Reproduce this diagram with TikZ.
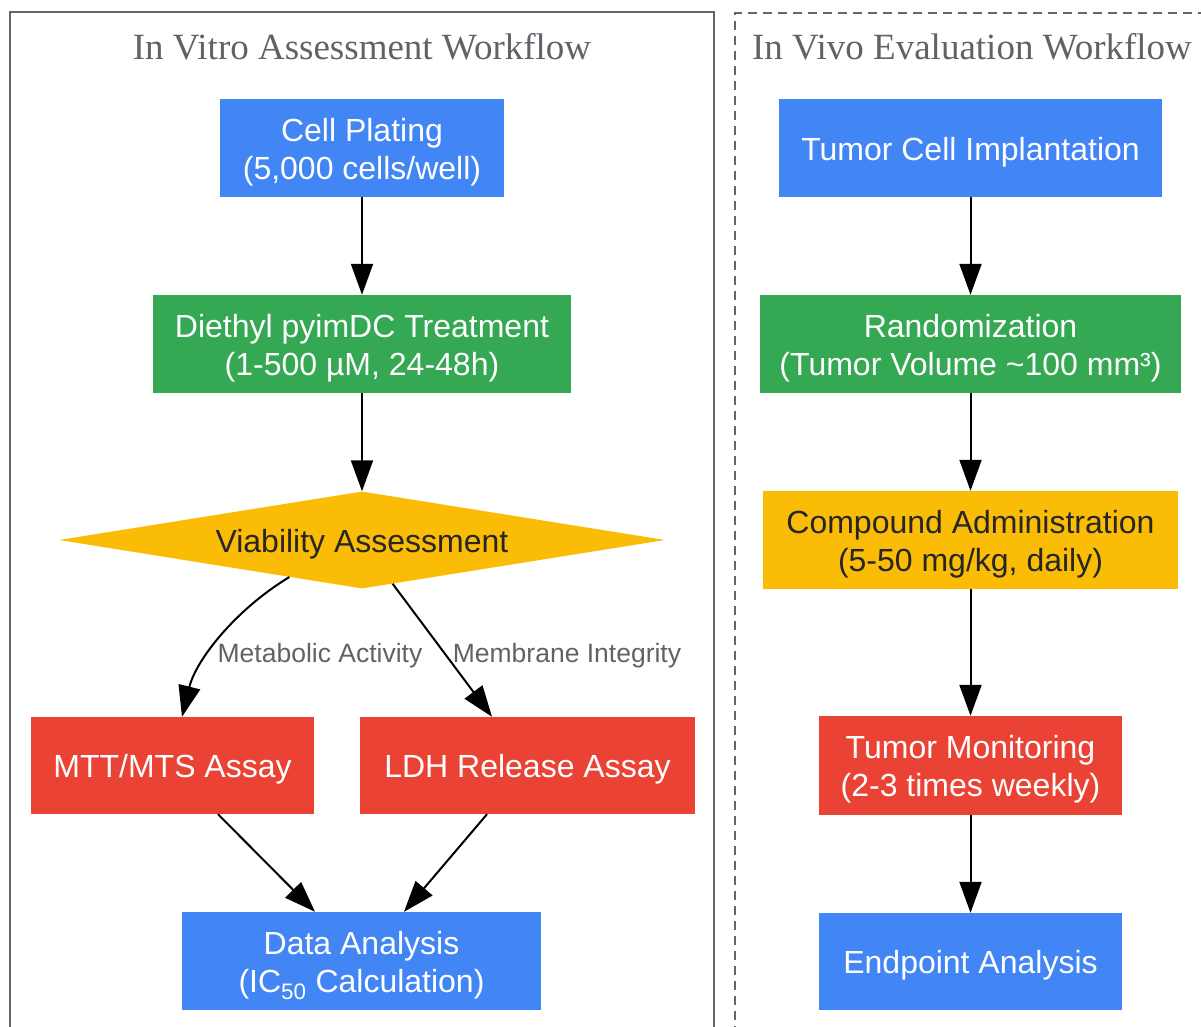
\documentclass[tikz,border=0pt]{standalone}
\usepackage{fontspec}
\setmainfont{Liberation Sans}
\newfontfamily\titlefont{Liberation Serif}
\usetikzlibrary{shapes.geometric,arrows.meta,calc}
\definecolor{gblue}{HTML}{4285F4}
\definecolor{ggreen}{HTML}{34A853}
\definecolor{gyellow}{HTML}{FBBC05}
\definecolor{gred}{HTML}{EA4335}
\definecolor{lblgray}{HTML}{5F6368}
\definecolor{framegray}{HTML}{666666}
\newcommand\ctext[1]{\raisebox{-4.5pt}[\height][\depth]{\begin{tabular}{@{}c@{}}#1\end{tabular}}}
\begin{document}
\begin{tikzpicture}[x=1pt,y=-1pt,
  box/.style={rectangle, inner sep=0pt, font=\fontsize{32}{38}\selectfont, text=white},
  conn/.style={line width=2pt, -{Triangle[length=31pt,width=22pt]}},
  elabel/.style={font=\fontsize{26.5}{30}\selectfont, text=lblgray},
  ctitle/.style={font=\titlefont\fontsize{37}{42}\selectfont, text=lblgray},
  frame/.style={line width=2pt, draw=framegray}]
\useasboundingbox (0,0) rectangle (1201,1027);
% clusters
\draw[frame] (10,1035) -- (10,12) -- (714,12) -- (714,1035);
\draw[frame, dash pattern=on 9pt off 6pt] (735,1035) -- (735,13) -- (1210,13);
\node[ctitle] (t1) at (362,47) {In Vitro Assessment Workflow};
\node[ctitle] (t2) at (972,47) {In Vivo Evaluation Workflow};
% left nodes
\node[box, fill=gblue, minimum width=284pt, minimum height=98pt] (cell) at (362,148) {\ctext{Cell Plating\\(5,000 cells/well)}};
\node[box, fill=ggreen, minimum width=418pt, minimum height=98pt] (treat) at (362,344) {\ctext{Diethyl pyimDC Treatment\\(1-500 µM, 24-48h)}};
\node[diamond, fill=gyellow, inner sep=0pt, shape aspect=6.25, minimum width=606pt, minimum height=97pt, font=\fontsize{32}{38}\selectfont, text=black!85] (via) at (362,540) {\ctext{Viability Assessment}};
\node[box, fill=gred, minimum width=283pt, minimum height=97pt] (mtt) at (172.5,765.5) {\ctext{MTT/MTS Assay}};
\node[box, fill=gred, minimum width=335pt, minimum height=97pt] (ldh) at (527.5,765.5) {\ctext{LDH Release Assay}};
\node[box, fill=gblue, minimum width=359pt, minimum height=98pt] (data) at (361.5,961) {\ctext{Data Analysis\\(IC\textsubscript{50} Calculation)}};
% right nodes
\node[box, fill=gblue, minimum width=383pt, minimum height=98pt] (impl) at (970.5,148) {\ctext{Tumor Cell Implantation}};
\node[box, fill=ggreen, minimum width=421pt, minimum height=98pt] (rand) at (970.5,344) {\ctext{Randomization\\(Tumor Volume \textasciitilde100 mm³)}};
\node[box, fill=gyellow, text=black!85, minimum width=415pt, minimum height=98pt] (comp) at (970.5,540) {\ctext{Compound Administration\\(5-50 mg/kg, daily)}};
\node[box, fill=gred, minimum width=303pt, minimum height=99pt] (mon) at (970.5,765.5) {\ctext{Tumor Monitoring\\(2-3 times weekly)}};
\node[box, fill=gblue, minimum width=303pt, minimum height=97pt] (endp) at (970.5,961.5) {\ctext{Endpoint Analysis}};
% left edges
\draw[conn] (cell.south) -- (treat.north);
\draw[conn] (treat.south) -- (via.north);
\draw[conn] (via.-153) .. controls (235,610) and (196,660) .. ($(mtt.north)+(9.5,0)$);
\draw[conn] (via.-55) -- ($(ldh.north)+(-35.5,0)$);
\node[elabel] (l1) at (320,656) {Metabolic Activity};
\node[elabel] (l2) at (567,656) {Membrane Integrity};
\draw[conn] ($(mtt.south)+(45.5,0)$) -- ($(data.north)+(-46.5,0)$);
\draw[conn] ($(ldh.south)+(-40.5,0)$) -- ($(data.north)+(42.5,0)$);
% right edges
\draw[conn] (impl.south) -- (rand.north);
\draw[conn] (rand.south) -- (comp.north);
\draw[conn] (comp.south) -- (mon.north);
\draw[conn] (mon.south) -- (endp.north);
\end{tikzpicture}
\end{document}
